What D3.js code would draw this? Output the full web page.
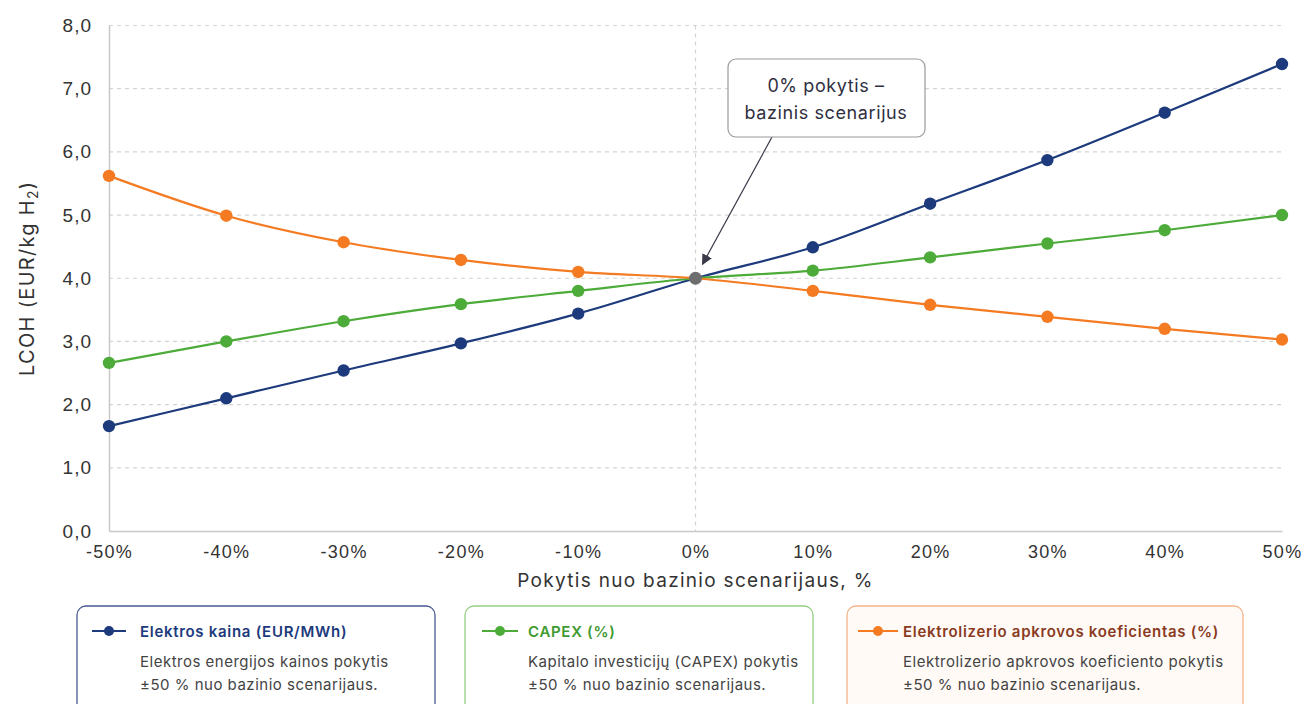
<!DOCTYPE html>
<html>
<head>
<meta charset="utf-8">
<script src="https://cdn.jsdelivr.net/npm/d3@7"></script>
<style>
  html, body { margin: 0; padding: 0; background: #ffffff; }
  svg { display: block; font-family: "Inter", "Noto Sans", sans-serif; }
</style>
</head>
<body>
<svg id="chart" width="1305" height="704"></svg>
<script>
// Change from the base scenario, %
const changes = [-50, -40, -30, -20, -10, 0, 10, 20, 30, 40, 50];

// LCOH, EUR/kg H2
const electricityPrice = [1.66, 2.10, 2.54, 2.97, 3.44, 4.00, 4.49, 5.18, 5.87, 6.62, 7.39];
const capex            = [2.66, 3.00, 3.32, 3.59, 3.80, 4.00, 4.12, 4.33, 4.55, 4.76, 5.00];
const loadFactor       = [5.62, 4.99, 4.57, 4.29, 4.10, 4.00, 3.80, 3.58, 3.39, 3.20, 3.03];

const yTicks = [0, 1, 2, 3, 4, 5, 6, 7, 8];

const seriesNames = ["Elektros kaina (EUR/MWh)", "CAPEX (%)", "Elektrolizerio apkrovos koeficientas (%)"];
const seriesNotes = [
  ["Elektros energijos kainos pokytis", "±50 % nuo bazinio scenarijaus."],
  ["Kapitalo investicijų (CAPEX) pokytis", "±50 % nuo bazinio scenarijaus."],
  ["Elektrolizerio apkrovos koeficiento pokytis", "±50 % nuo bazinio scenarijaus."]
];
const seriesColors = ["#1c3a7c", "#4dab3a", "#f47b22"];
const titleColors  = ["#1c3a7c", "#3f9a31", "#8a3a1e"];
const boxBorders   = ["#4a5a94", "#93d083", "#f3b48a"];
const boxFills     = ["#ffffff", "#ffffff", "#fffaf6"];

const seriesValues = [electricityPrice, capex, loadFactor];

const svg = d3.select("#chart");

const x = d3.scaleLinear().domain([-50, 50]).range([109, 1282]);
const y = d3.scaleLinear().domain([0, 8]).range([531, 25.5]);

const fmtY = v => d3.format(".1f")(v).replace(".", ",");

// horizontal dashed gridlines
svg.append("g")
  .selectAll("line")
  .data(yTicks.filter(d => d > 0))
  .join("line")
  .attr("x1", x(-50)).attr("x2", x(50))
  .attr("y1", d => y(d)).attr("y2", d => y(d))
  .attr("stroke", "#d4d4d4")
  .attr("stroke-width", 1.2)
  .attr("stroke-dasharray", "4,4");

// vertical dashed line at the base scenario
svg.append("line")
  .attr("x1", x(0)).attr("x2", x(0))
  .attr("y1", y(8)).attr("y2", y(0))
  .attr("stroke", "#d4d4d4")
  .attr("stroke-width", 1.2)
  .attr("stroke-dasharray", "4,4");

// y axis
const yAxis = svg.append("g")
  .attr("transform", `translate(${x(-50)},0)`)
  .call(d3.axisLeft(y).tickValues(yTicks).tickFormat(fmtY).tickSize(0).tickPadding(17));
yAxis.select(".domain").attr("stroke", "#c8c8c8").attr("stroke-width", 1.5);
yAxis.selectAll("text")
  .attr("font-size", 19).attr("letter-spacing", 1).attr("fill", "#333");

// x axis
const xAxis = svg.append("g")
  .attr("transform", `translate(0,${y(0)})`)
  .call(d3.axisBottom(x).tickValues(changes).tickFormat(d => d + "%").tickSize(0).tickPadding(14));
xAxis.select(".domain").attr("stroke", "#c8c8c8").attr("stroke-width", 1.5);
xAxis.selectAll("text")
  .attr("font-size", 18).attr("letter-spacing", 1.3).attr("fill", "#333");

// axis titles
svg.append("text")
  .attr("x", x(0)).attr("y", 587)
  .attr("text-anchor", "middle")
  .attr("font-size", 19).attr("letter-spacing", 1.3).attr("fill", "#333")
  .text("Pokytis nuo bazinio scenarijaus, %");

const yTitle = svg.append("text")
  .attr("transform", `translate(34,${y(4)}) rotate(-90)`)
  .attr("text-anchor", "middle")
  .attr("font-size", 20).attr("letter-spacing", 1.3).attr("fill", "#333");
yTitle.append("tspan").text("LCOH (EUR/kg H");
yTitle.append("tspan").attr("font-size", 14).attr("dy", 4).text("2");
yTitle.append("tspan").attr("dy", -4).text(")");

// series lines and markers
const line = d3.line()
  .x((d, i) => x(changes[i]))
  .y(d => y(d))
  .curve(d3.curveMonotoneX);

seriesValues.forEach((vals, s) => {
  svg.append("path")
    .datum(vals)
    .attr("fill", "none")
    .attr("stroke", seriesColors[s])
    .attr("stroke-width", 2.2)
    .attr("d", line);
});

seriesValues.forEach((vals, s) => {
  svg.append("g")
    .selectAll("circle")
    .data(vals.map((v, i) => ({ v, c: changes[i] })).filter(d => d.c !== 0))
    .join("circle")
    .attr("cx", d => x(d.c))
    .attr("cy", d => y(d.v))
    .attr("r", 6.2)
    .attr("fill", seriesColors[s]);
});

// shared base-scenario point
svg.append("circle")
  .attr("cx", x(0)).attr("cy", y(electricityPrice[changes.indexOf(0)]))
  .attr("r", 6.5)
  .attr("fill", "#6e6e6e");

// annotation
const defs = svg.append("defs");
defs.append("marker")
  .attr("id", "arrowhead")
  .attr("viewBox", "0 0 10 10")
  .attr("refX", 9).attr("refY", 5)
  .attr("markerWidth", 9).attr("markerHeight", 9)
  .attr("orient", "auto")
  .append("path")
  .attr("d", "M0,0 L10,5 L0,10 z")
  .attr("fill", "#3a3a4a");

svg.append("line")
  .attr("x1", 772).attr("y1", 137)
  .attr("x2", x(0) + 7).attr("y2", y(4) - 14)
  .attr("stroke", "#3a3a4a")
  .attr("stroke-width", 1.2)
  .attr("marker-end", "url(#arrowhead)");

svg.append("rect")
  .attr("x", 728).attr("y", 59)
  .attr("width", 197).attr("height", 78)
  .attr("rx", 8)
  .attr("fill", "#ffffff")
  .attr("stroke", "#9a9a9a")
  .attr("stroke-width", 1.2);

svg.append("text")
  .attr("x", 826).attr("y", 92)
  .attr("text-anchor", "middle")
  .attr("font-size", 18).attr("letter-spacing", 0.6).attr("fill", "#2f2f3f")
  .text("0% pokytis –");
svg.append("text")
  .attr("x", 826).attr("y", 119)
  .attr("text-anchor", "middle")
  .attr("font-size", 18).attr("letter-spacing", 0.6).attr("fill", "#2f2f3f")
  .text("bazinis scenarijus");

// legend boxes
const legendBoxes = [
  { left: 77, right: 435, iconL: 92, iconR: 126, textX: 140 },
  { left: 465, right: 813, iconL: 482, iconR: 518, textX: 528 },
  { left: 847, right: 1243, iconL: 858, iconR: 898, textX: 903 }
];

legendBoxes.forEach((b, s) => {
  const g = svg.append("g");
  g.append("rect")
    .attr("x", b.left).attr("y", 606)
    .attr("width", b.right - b.left).attr("height", 110)
    .attr("rx", 9)
    .attr("fill", boxFills[s])
    .attr("stroke", boxBorders[s])
    .attr("stroke-width", 1.3);
  g.append("line")
    .attr("x1", b.iconL).attr("x2", b.iconR)
    .attr("y1", 631).attr("y2", 631)
    .attr("stroke", seriesColors[s])
    .attr("stroke-width", 2.2);
  g.append("circle")
    .attr("cx", (b.iconL + b.iconR) / 2).attr("cy", 631)
    .attr("r", 5)
    .attr("fill", seriesColors[s]);
  g.append("text")
    .attr("x", b.textX).attr("y", 637)
    .attr("font-size", 15).attr("font-weight", 600).attr("letter-spacing", 0.7)
    .attr("fill", titleColors[s])
    .text(seriesNames[s]);
  seriesNotes[s].forEach((t, k) => {
    g.append("text")
      .attr("x", b.textX).attr("y", 667 + k * 23)
      .attr("font-size", 15).attr("letter-spacing", 0.5)
      .attr("fill", "#444")
      .text(t);
  });
});
</script>
</body>
</html>
